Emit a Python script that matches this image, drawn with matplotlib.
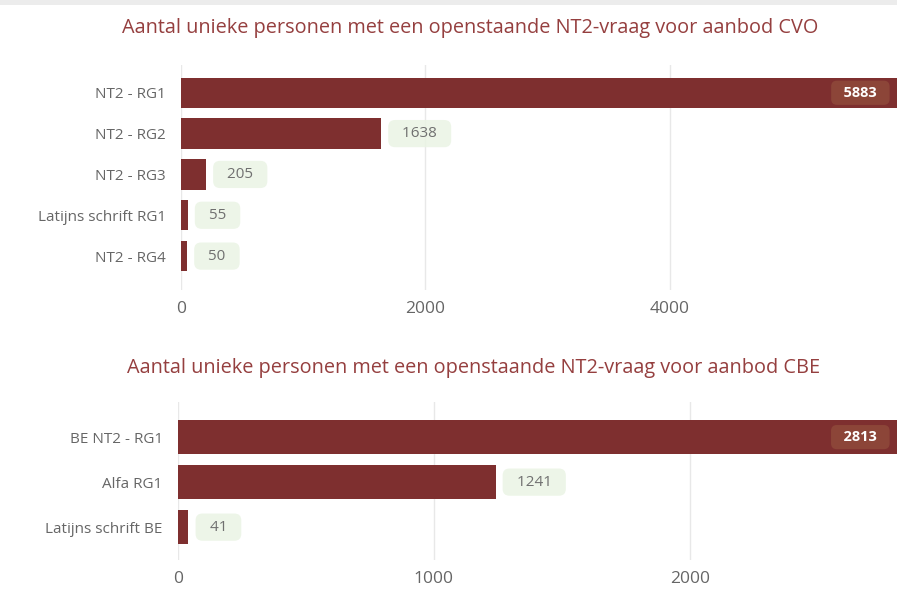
import matplotlib
matplotlib.use("Agg")
import matplotlib.pyplot as plt
from matplotlib.patches import Rectangle

plt.rcParams['font.family'] = ['Open Sans', 'DejaVu Sans']

# data
cvo_labels = ["NT2 - RG1", "NT2 - RG2", "NT2 - RG3", "Latijns schrift RG1", "NT2 - RG4"]
cvo_values = [5883, 1638, 205, 55, 50]
cbe_labels = ["BE NT2 - RG1", "Alfa RG1", "Latijns schrift BE"]
cbe_values = [2813, 1241, 41]

cvo_title = "Aantal unieke personen met een openstaande NT2-vraag voor aanbod CVO"
cbe_title = "Aantal unieke personen met een openstaande NT2-vraag voor aanbod CBE"

bar_color = "#7e2f2f"
title_color = "#953f3f"
grid_color = "#e8e8e8"
label_bg = "#eaf4e4"
text_gray = "#666666"


def draw_panel(ax, labels, values, xmax, ticks, ylim):
    pos = list(range(len(labels)))
    ax.barh(pos, values, height=0.74, color=bar_color, zorder=2)
    ax.set_xlim(0, xmax)
    ax.set_ylim(*ylim)
    ax.set_yticks(pos)
    ax.set_yticklabels(labels, fontsize=11, color=text_gray)
    ax.set_xticks(ticks)
    ax.set_xticklabels([str(t) for t in ticks], fontsize=12.5, color=text_gray)
    ax.tick_params(length=0, axis='y', pad=11)
    ax.tick_params(length=0, axis='x', pad=8)
    ax.grid(axis='x', color=grid_color, linewidth=1, zorder=0)
    for s in ax.spines.values():
        s.set_visible(False)
    for p, v in zip(pos, values):
        if v > xmax * 0.9:
            # label inside the clipped bar
            ax.annotate("  %d  " % v, xy=(1, p), xycoords=('axes fraction', 'data'),
                        xytext=(-9, 0), textcoords='offset points',
                        ha='right', va='center', fontsize=10.5, fontweight='bold',
                        color='white', zorder=4,
                        bbox=dict(boxstyle='round,pad=0.35,rounding_size=0.4',
                                  fc='#8c4538', ec='none'))
        else:
            ax.annotate("  %d  " % v, xy=(v, p), xytext=(9.5, 0), textcoords='offset points',
                        ha='left', va='center', fontsize=11, color='#707070', zorder=4,
                        bbox=dict(boxstyle='round,pad=0.4,rounding_size=0.45',
                                  fc=label_bg, ec='none', alpha=0.85))


fig = plt.figure(figsize=(8.97, 5.90), dpi=100)
fig.patch.set_facecolor('white')
# thin grey strip along the top edge of the screenshot
fig.add_artist(Rectangle((0, 1 - 5 / 590), 1, 5 / 590, transform=fig.transFigure,
                         fc='#ececec', ec='none'))

ax1 = fig.add_axes([181 / 897, 1 - 290 / 590, 1 - 181 / 897, 225 / 590])
draw_panel(ax1, cvo_labels, cvo_values, 5860, [0, 2000, 4000], (4.83, -0.68))
fig.text(470 / 897, 1 - 28 / 590, cvo_title, ha='center', va='center',
         fontsize=14.3, color=title_color)

ax2 = fig.add_axes([178 / 897, 1 - 560 / 590, 1 - 178 / 897, 158 / 590])
draw_panel(ax2, cbe_labels, cbe_values, 2810, [0, 1000, 2000], (2.73, -0.78))
fig.text(474 / 897, 1 - 368 / 590, cbe_title, ha='center', va='center',
         fontsize=14.3, color=title_color)

fig.savefig("out.png", dpi=100)
